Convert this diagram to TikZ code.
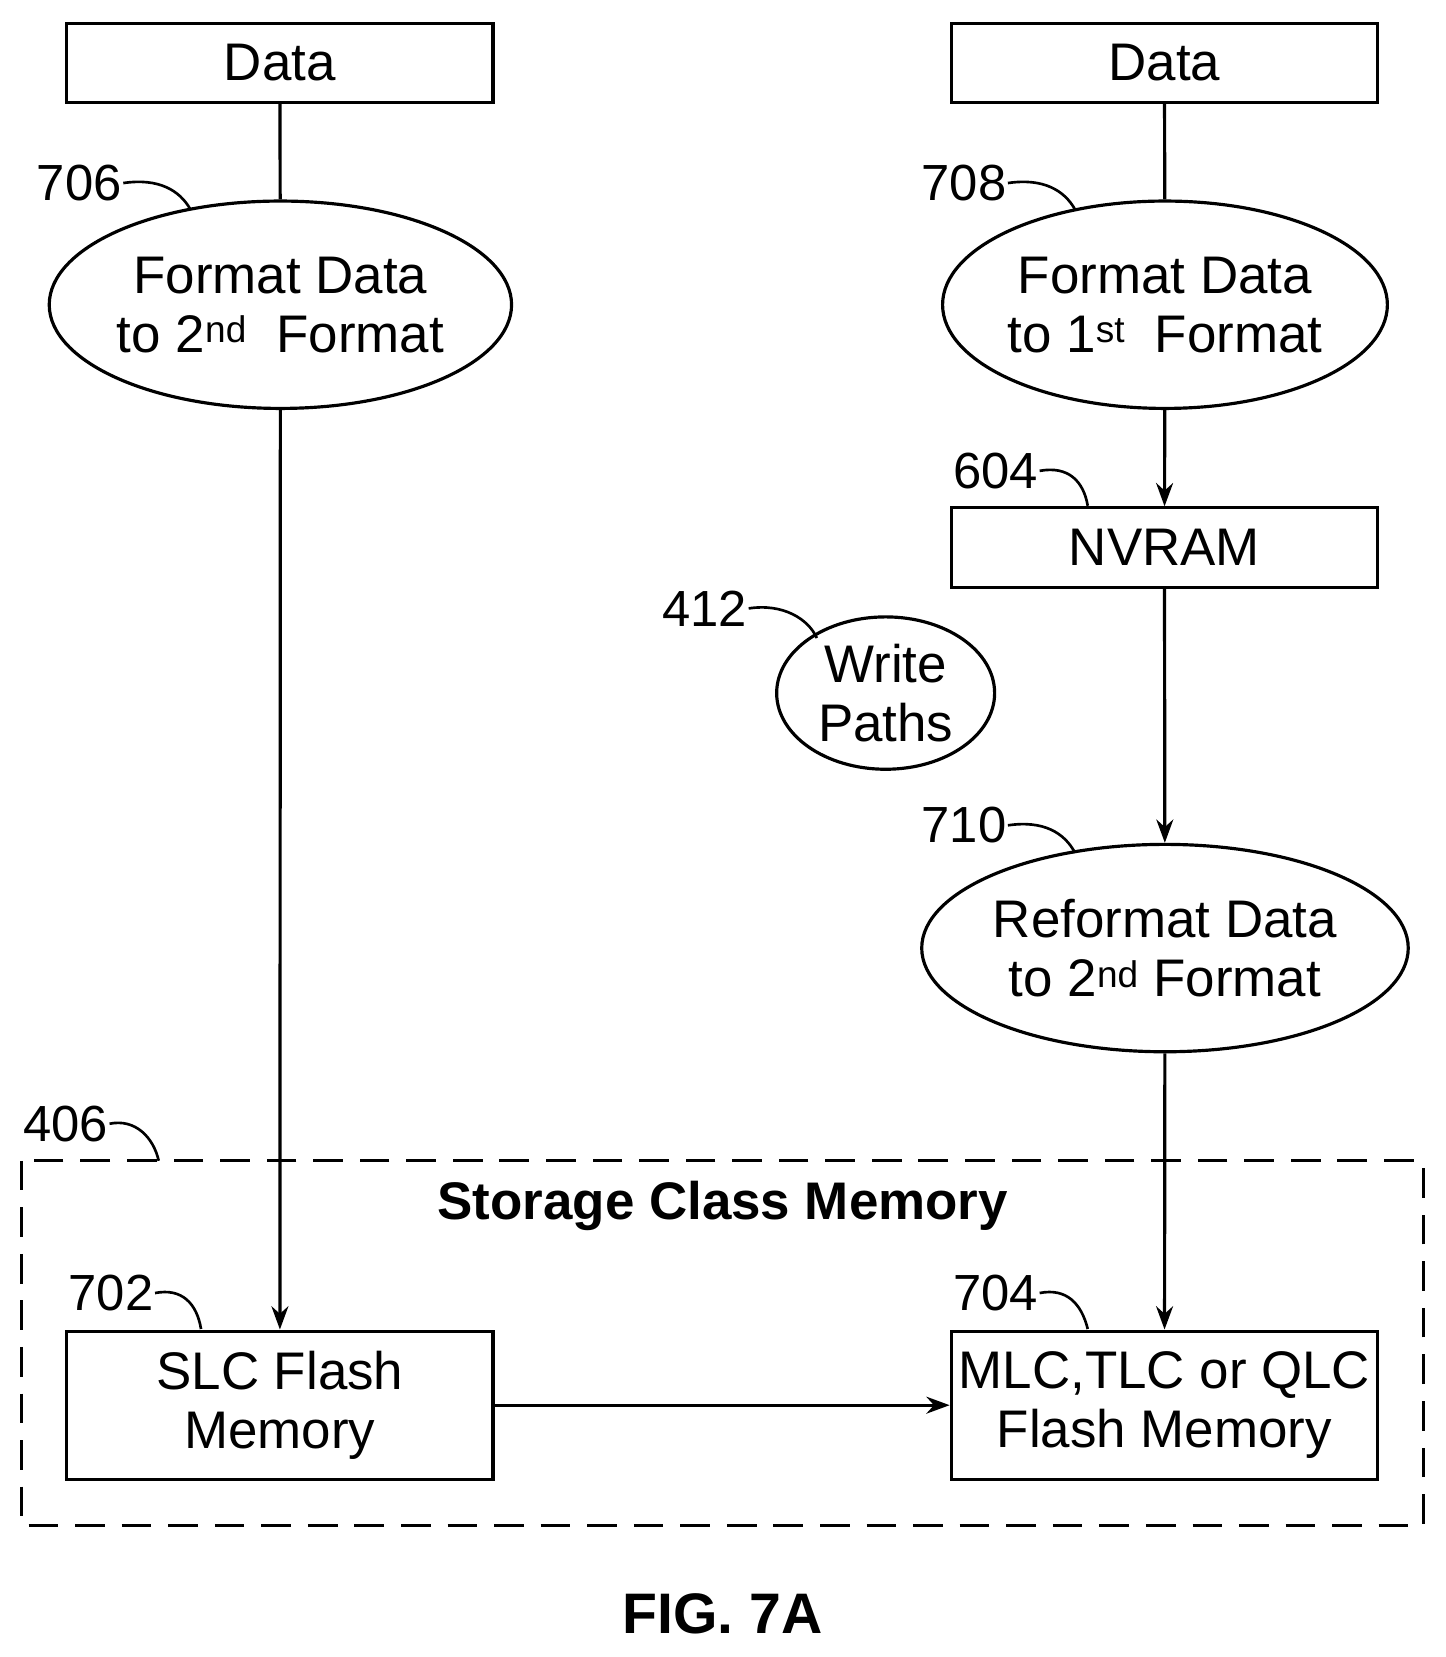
\documentclass[tikz,border=0pt]{standalone}
\usepackage{fontspec}
\setmainfont{Liberation Sans}
\usetikzlibrary{shapes.geometric,arrows.meta}
\begin{document}
\begin{tikzpicture}[x=1pt,y=-1pt,line width=3pt,
  box/.style={draw,rectangle,minimum width=403pt,inner sep=0pt,align=center,font=\fontsize{50}{56}\selectfont},
  ell/.style={draw,ellipse,minimum width=404pt,minimum height=196pt,inner sep=0pt,align=center,font=\fontsize{50}{56}\selectfont},
  lbl/.style={font=\fontsize{48}{52}\selectfont,inner sep=0pt},
  arr/.style={-{Stealth[length=22pt,width=16pt]}},
  lead/.style={line width=2.5pt}]
\useasboundingbox (0,0) rectangle (1366,1566);
\node[box,minimum height=75pt] (d1) at (264.5,59.5) {Data};
\node[box,minimum height=75pt] (d2) at (1100.5,59.5) {Data};
\node[ell] (e1) at (265,288) {Format Data\\to 2\textsuperscript{nd}\ \ Format};
\node[ell] (e2) at (1101,288) {Format Data\\to 1\textsuperscript{st}\ \ Format};
\node[box,minimum height=75pt] (nv) at (1100.5,517.5) {NVRAM};
\node[draw,ellipse,minimum width=206pt,minimum height=144pt,inner sep=0pt,align=center,font=\fontsize{50}{56}\selectfont] (wp) at (837,655) {Write\\Paths};
\node[ell] (e3) at (1101,896) {Reformat Data\\to 2\textsuperscript{nd} Format};
\draw[dashed,dash pattern=on 28pt off 16pt] (20,1097) rectangle (1345,1442);
\node[font=\bfseries\fontsize{50}{56}\selectfont] (scm) at (683,1140) {Storage Class Memory};
\node[box,minimum height=140pt] (slc) at (264.5,1328) {SLC Flash\\Memory};
\node[box,minimum height=140pt] (mlc) at (1100.5,1328) {MLC,TLC or QLC\\Flash Memory};
\node[font=\bfseries\fontsize{54}{58}\selectfont] (fig) at (683,1525) {FIG. 7A};
\draw (d1) -- (e1);
\draw (d2) -- (e2);
\draw[arr] (e1) -- (slc);
\draw[arr] (e2) -- (nv);
\draw[arr] (nv) -- (e3);
\draw[arr] (e3) -- (mlc);
\draw[arr] (slc) -- (mlc);
\node[lbl] (l706) at (75,173) {706};
\node[lbl] (l708) at (911,173) {708};
\node[lbl] (l604) at (941,445) {604};
\node[lbl] (l412) at (666,575) {412};
\node[lbl] (l710) at (911,780) {710};
\node[lbl] (l406) at (62,1062) {406};
\node[lbl] (l702) at (105,1222) {702};
\node[lbl] (l704) at (941,1222) {704};
\draw[lead] (l706.east) .. controls (150,168) and (170,180) .. (180,198);
\draw[lead] (l708.east) .. controls (986,168) and (1006,180) .. (1016,198);
\draw[lead] (l604.east) .. controls (1010,440) and (1024,455) .. (1028,478);
\draw[lead] (l412.east) .. controls (740,570) and (764,585) .. (772,603);
\draw[lead] (l710.east) .. controls (986,775) and (1006,787) .. (1016,806);
\draw[lead] (l406.east) .. controls (128,1057) and (145,1075) .. (150,1097);
\draw[lead] (l702.east) .. controls (172,1217) and (186,1232) .. (190,1256);
\draw[lead] (l704.east) .. controls (1008,1217) and (1022,1232) .. (1028,1256);
\end{tikzpicture}
\end{document}
